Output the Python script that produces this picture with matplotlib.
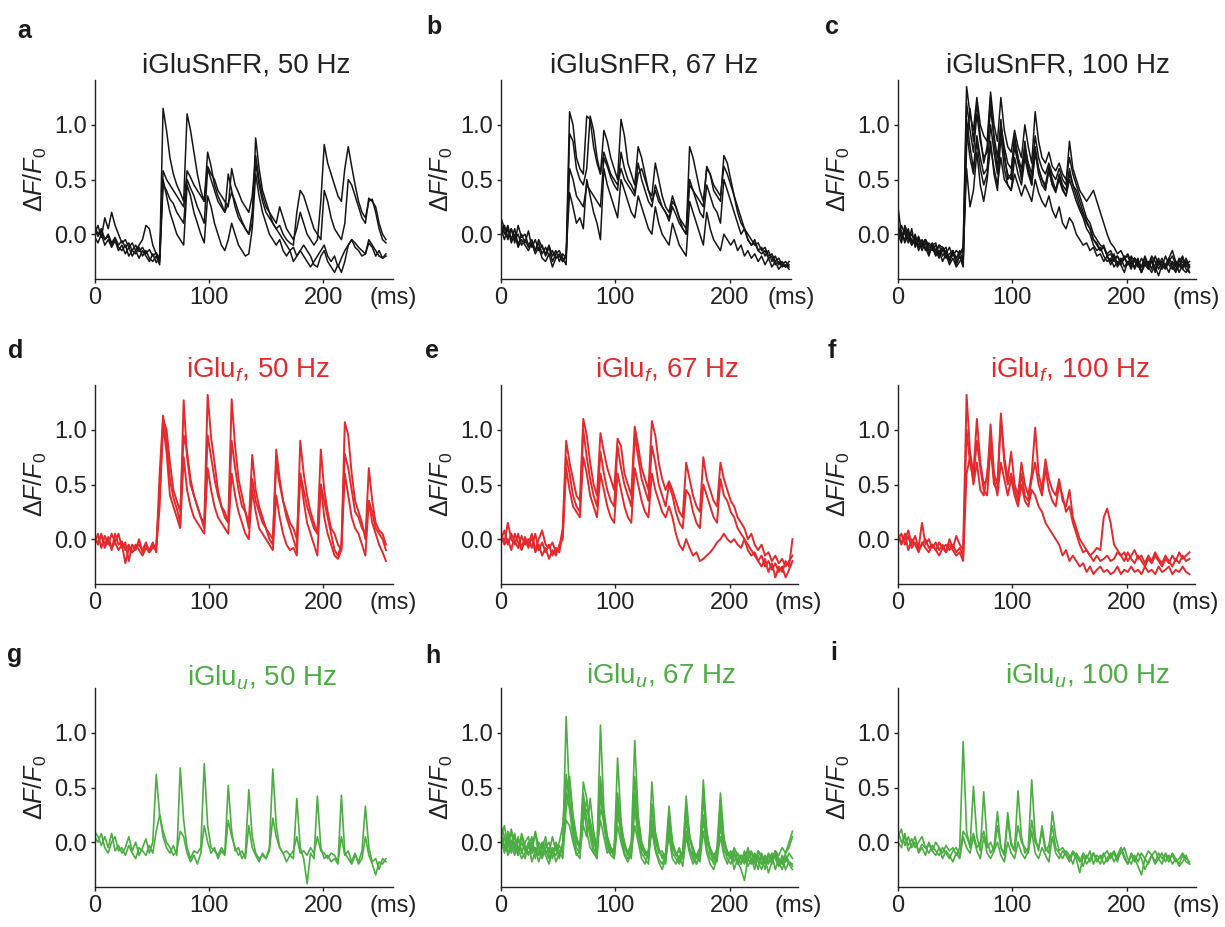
import numpy as np
import matplotlib
matplotlib.use("Agg")
import matplotlib.pyplot as plt

plt.rcParams['font.family'] = ['Liberation Sans', 'DejaVu Sans']
plt.rcParams['mathtext.fontset'] = 'custom'
plt.rcParams['mathtext.rm'] = 'Liberation Sans'
plt.rcParams['mathtext.it'] = 'Liberation Sans:italic'
plt.rcParams['mathtext.bf'] = 'Liberation Sans:bold'

# sampling step of the traces (ms); values below are dF/F0 in hundredths
DT = 3

# --- iGluSnFR, 50 Hz ---
a1 = [5,-2,3,-5,0,-8,-3,-10,-6,-12,-8,-15,-10,-16,-12,-18,-14,-20,-17,-22,
      115,95,70,55,45,38,30,110,95,75,55,40,30,75,62,45,35,28,20,55,40,25,15,10,5,0,10,
      88,60,40,30,20,15,10,25,15,5,0,-5,5,20,10,0,-5,-10,-5,30,
      82,65,55,45,35,30,60,80,62,45,30,20,15,30,32,20,5,-5,-8]
a2 = [0,8,-3,15,5,20,8,0,-8,-5,-12,-8,-15,-10,-5,8,5,-10,-18,-25,
      58,50,45,40,35,30,25,58,52,45,40,35,30,62,55,50,40,35,30,25,60,45,38,30,25,20,35,
      72,50,35,25,20,10,5,8,0,-5,-8,-10,20,40,35,25,15,5,0,-5,
      40,30,15,5,0,-5,10,50,45,35,25,15,10,33,30,25,10,0,-5]
a3 = [-2,-8,0,-10,-5,-12,-6,-15,-10,-18,-12,-20,-15,-22,-15,-20,-25,-18,-26,-20,
      50,35,20,10,0,-5,-10,45,35,20,10,0,-8,35,25,10,0,-10,-15,-5,10,0,-10,-15,-20,-18,5,
      55,35,20,10,0,-5,-10,-5,-15,-20,-15,-25,-20,-15,-10,-15,-20,-28,-30,-20,
      -15,-25,-30,-35,-28,-35,-25,-10,-5,-12,-15,-20,-18,-5,-10,-15,-20,-22,-18]
a4 = [8,0,5,-5,-2,-10,-5,-12,-15,-10,-20,-15,-18,-12,-20,-15,-22,-25,-20,-28,
      45,40,32,28,20,15,10,50,42,35,25,18,10,60,50,40,30,25,20,28,38,30,20,12,5,0,20,
      65,45,30,20,15,10,5,0,-5,-10,-15,-12,-20,-15,-20,-25,-30,-25,-20,-15,
      -10,-20,-25,-20,-30,-22,-15,-10,-5,-8,-12,-15,-18,-8,-12,-20,-15,-22,-20]

# --- iGluSnFR, 67 Hz ---
b1 = [15,5,-5,5,-8,8,-3,0,-10,-5,-15,-8,-18,-12,-20,-15,-22,-18,-25,-20,
      112,100,70,60,55,108,105,80,65,55,95,85,70,60,50,105,90,65,55,45,80,70,55,40,35,
      65,50,35,25,20,35,25,15,5,0,80,70,55,40,30,60,55,40,35,30,
      72,65,50,35,25,15,5,0,-5,-10,-8,-15,-12,-20,-18,-25,-22,-28,-25,-30]
b2 = [10,0,8,-5,5,-10,0,-8,3,-12,-5,-15,-10,-20,-12,-25,-18,-15,-22,-28,
      92,85,60,50,45,60,108,95,70,55,75,65,55,50,45,60,50,45,40,35,55,60,50,40,30,
      40,30,25,20,15,30,25,15,10,5,45,40,35,30,25,62,55,45,40,35,
      62,55,45,35,20,10,5,-5,-10,-5,-15,-12,-20,-15,-25,-20,-28,-25,-30,-28]
b3 = [5,-5,5,-8,0,-12,-5,-10,-15,-8,-18,-12,-22,-25,-18,-30,-22,-20,-25,-18,
      38,25,10,15,5,50,35,20,10,-5,60,45,35,25,15,50,40,30,20,15,35,25,15,5,0,
      25,10,0,-5,-10,10,0,-10,-15,-20,30,20,10,0,-10,20,5,-5,-10,-15,
      0,-5,-10,-5,-15,-10,-20,-15,-22,-18,-25,-20,-28,-22,-30,-25,-32,-28,-30,-25]
b4 = [0,8,-3,5,-5,0,-10,-5,-12,-8,-15,-5,-12,-18,-10,-20,-15,-25,-18,-22,
      60,50,35,30,25,45,40,35,30,25,70,62,52,45,40,75,60,50,45,38,65,50,40,30,25,
      45,35,25,20,12,25,18,10,5,0,50,40,30,20,15,45,35,25,20,10,
      50,40,30,20,10,0,5,-5,-10,-8,-15,-18,-15,-22,-20,-28,-25,-30,-28,-32]

# --- iGluSnFR, 100 Hz ---
c1 = [5,-2,3,-5,0,-8,-3,-10,-5,-12,-8,-15,-10,-12,-18,-12,-20,-15,-18,-12,
      135,110,95,125,100,90,85,130,100,85,125,95,80,75,95,80,70,100,80,65,112,85,70,65,
      75,62,58,65,55,50,70,55,45,35,25,15,10,0,-5,-10,-12,-18,-15,-22,-20,-25,-22,-28,
      -20,-25,-30,-22,-28,-25,-32,-20,-28,-25,-30,-22,-27,-33,-25,-20,-30,-28]
c2 = [25,0,-5,5,-8,-2,-10,-5,-15,-8,-12,-18,-10,-20,-15,-22,-15,-25,-20,-28,
      105,80,60,90,70,55,60,100,75,55,105,70,55,50,80,65,55,75,60,50,80,60,50,45,
      62,50,40,55,45,40,60,45,35,25,18,10,5,-5,-10,-15,-12,-20,-18,-25,-20,-28,-22,-18,
      -25,-30,-22,-35,-25,-30,-22,-35,-25,-30,-20,-28,-32,-25,-35,-28,-25,-35]
c3 = [-3,8,0,-8,5,-12,-5,-15,-8,-18,-12,-20,-15,-25,-18,-28,-22,-30,-25,-20,
      60,25,40,75,45,30,50,85,55,40,90,60,45,40,70,55,45,70,55,45,75,60,50,42,
      58,45,38,52,42,35,55,45,40,30,20,12,5,-5,-8,-15,-10,-20,-25,-18,-28,-22,-30,-25,
      -32,-22,-28,-35,-25,-30,-35,-28,-22,-32,-28,-35,-25,-30,-22,-32,-35,-30]
c4 = [10,-5,5,-3,-10,0,-12,-8,-5,-15,-10,-8,-20,-15,-12,-25,-18,-22,-15,-25,
      95,70,55,85,60,45,55,80,60,45,70,50,45,40,55,45,35,45,38,30,50,38,30,25,
      35,22,15,25,10,5,15,10,0,-5,-10,-8,-15,-12,-20,-18,-25,-20,-28,-22,-30,-25,-20,-28,
      -22,-32,-25,-30,-20,-28,-25,-32,-28,-22,-30,-25,-20,-28,-30,-22,-28,-25]
c5 = [0,-8,8,0,-5,-10,-2,-12,-5,-10,-15,-10,-18,-12,-22,-18,-15,-22,-18,-15,
      120,95,75,110,85,70,75,115,90,70,100,80,65,60,85,70,60,80,65,55,90,70,60,55,
      65,55,50,60,50,45,85,60,50,40,35,30,35,40,30,20,10,0,-8,-12,-18,-15,-22,-20,
      -28,-22,-25,-30,-22,-28,-20,-25,-32,-25,-28,-22,-15,-25,-28,-32,-22,-30]
c6 = [-5,3,-8,2,-10,-3,-15,-8,-12,-20,-10,-15,-22,-12,-18,-25,-15,-28,-20,-30,
      80,115,85,120,90,65,80,125,85,60,95,75,50,55,90,70,50,85,60,45,75,55,45,40,
      60,45,40,50,40,35,50,40,30,22,15,5,0,-10,-15,-12,-20,-25,-22,-30,-25,-28,-35,-25,
      -30,-22,-28,-35,-28,-32,-25,-30,-38,-28,-32,-25,-30,-35,-28,-25,-32,-35]

# --- iGlu_f, 50 Hz ---
d1 = [-5,5,-8,3,-5,5,-3,5,-8,-3,-20,-5,-10,0,-12,-5,-10,-3,-12,60,
      113,90,55,38,28,15,127,75,50,40,30,20,15,132,93,70,45,30,25,15,128,85,55,40,25,15,
      77,45,30,20,10,0,-5,82,55,35,20,10,0,-10,90,60,40,25,15,5,
      82,45,25,10,5,-5,-10,107,95,60,35,25,15,0,65,35,15,8,5,-5]
d2 = [3,-5,5,-8,0,-10,5,-5,-2,-10,-5,-12,-8,-5,-10,-3,-12,-8,-5,40,
      110,100,70,45,35,25,95,80,55,40,30,20,10,95,75,55,40,30,20,15,90,65,45,30,25,10,
      55,35,25,15,10,5,0,70,50,35,25,15,10,0,60,45,30,20,10,5,
      50,35,20,5,-10,-15,-5,78,65,45,25,20,10,5,35,25,10,5,0,-10]
d3 = [0,-3,3,-5,2,-8,-3,-10,-5,-22,-8,-12,-5,-10,-15,-8,-12,-5,-10,30,
      105,80,40,30,20,10,75,45,30,20,15,10,5,65,45,30,20,15,10,5,60,40,25,15,5,0,
      45,25,10,5,0,-5,-10,40,20,5,-5,-10,-8,-15,60,35,15,5,-5,-15,
      50,20,5,-5,-15,-18,-10,60,40,20,10,5,-5,-15,35,15,5,-5,-12,-20]

# --- iGlu_f, 67 Hz ---
e1 = [5,-3,15,0,-5,5,-8,2,-5,5,-10,0,8,-5,-8,-3,-12,-8,10,
      90,70,55,40,35,110,95,70,50,40,97,80,65,55,45,92,85,60,50,40,103,85,65,55,45,
      108,95,70,55,45,53,45,35,25,20,70,55,40,30,25,75,55,45,35,30,
      70,55,45,35,30,20,15,10,0,5,-5,-10,-5,-15,-12,-20,-15,-22,-18,-25,-20,-15]
e2 = [0,8,-5,5,-2,-8,3,-5,0,-8,5,-10,-3,-12,-5,-15,-8,-12,5,
      75,60,40,30,25,100,75,55,40,30,80,60,45,35,30,85,65,50,40,30,95,75,55,45,35,
      85,70,50,40,30,50,40,25,15,10,45,40,25,15,10,50,40,30,20,15,
      55,40,35,25,20,10,5,0,-5,-10,-15,-20,-15,-25,-20,-28,-22,-30,-25,-35,-28,-20]
e3 = [3,-5,0,-10,5,-3,-10,0,-8,3,-12,-5,-15,-8,-18,-10,-15,-5,0,
      65,45,30,25,20,75,60,40,30,20,60,45,30,20,15,60,45,30,20,15,65,50,35,25,20,
      60,45,35,25,20,30,20,5,-5,-10,0,-8,-15,-12,-20,-18,-15,-12,-8,-3,
      0,5,0,-3,0,-5,-8,0,-10,-15,-12,-20,-25,-18,-30,-22,-35,-25,-30,-20,-25,0]

# --- iGlu_f, 100 Hz ---
f1 = [5,-3,0,8,-5,3,-8,15,-5,0,-8,-3,-10,-5,-12,0,-8,3,-5,-10,
      132,80,60,110,70,50,55,105,60,50,115,75,55,80,50,40,70,50,40,60,
      102,60,45,73,55,45,40,55,35,30,45,20,10,0,-5,-10,-15,-20,-15,-20,
      -18,-15,-20,-18,-12,-15,-20,-12,-18,-22,-15,-20,-25,-18,-22,-15,-20,-25,-18,-22,
      -15,-20,-12,-18,-15,-12]
f2 = [0,5,-5,3,-8,-3,-10,-5,0,-8,-5,-10,-3,-8,-5,-10,-5,-12,-8,-15,
      100,70,55,90,65,45,40,85,50,45,110,70,50,60,45,35,60,40,35,55,
      70,50,40,65,45,35,30,50,40,25,30,15,5,-5,-12,-10,-15,-12,-8,-10,
      20,28,15,-5,-10,-15,-12,-20,-15,-10,-18,-15,-22,-15,-20,-12,-18,-22,-15,-20,
      -25,-18,-22,-15,-20,-18]
f3 = [3,-5,5,-10,0,-5,-12,-3,-8,-12,-5,-10,-15,-8,-12,-5,-10,-15,-12,-20,
      60,75,50,70,45,40,60,90,55,40,70,55,40,55,40,30,50,35,30,45,
      40,30,25,15,10,5,0,-5,-15,-10,-20,-15,-20,-25,-22,-30,-25,-32,-28,-25,
      -30,-28,-32,-30,-25,-32,-28,-30,-25,-30,-28,-32,-25,-30,-28,-32,-25,-30,-28,-25,
      -32,-28,-30,-25,-30,-32]

# --- iGlu_u, 50 Hz ---
g1 = [10,5,-3,5,-5,8,-8,-3,-10,-5,5,-8,0,-12,-5,3,-10,0,62,25,5,-5,-10,-3,-12,
      68,20,-5,-15,-8,-10,-5,72,15,-5,-8,-12,-5,-10,52,10,-8,-5,-15,-10,48,5,-10,-15,-12,
      -15,-5,67,15,-5,-10,-18,-12,-15,40,-5,-15,-38,-10,-15,42,-5,-15,-12,-18,-15,-20,
      43,-10,-15,-20,-12,-18,-8,33,-5,-18,-15,-25,-15,-18]
g2 = [5,0,8,-5,-10,0,5,-8,-5,-12,-3,-10,-15,-5,-8,-12,-3,-10,10,25,10,0,-5,-12,-8,
      10,5,-10,-18,-12,-20,-10,15,0,-10,-5,-15,-8,-12,20,5,-5,-12,-8,-15,15,-5,-12,-18,-10,
      -15,-8,22,5,-5,-10,-8,-12,-8,5,-10,-8,-12,-5,-10,5,-8,-10,-15,-10,-12,-18,
      5,-12,-8,-18,-10,-20,-15,5,-12,-20,-30,-18,-20,-15]

# --- iGlu_u, 67 Hz ---
h1 = [10,-5,5,-10,0,-8,5,-5,-12,0,-8,-3,-15,-5,0,-10,-5,-12,-5,
      115,40,10,-5,-10,35,10,-5,-10,-5,107,30,5,-5,-10,77,20,-5,-10,0,93,25,0,-10,-15,
      55,10,-5,-15,-10,33,0,-10,-18,-12,42,5,-10,-15,-8,57,10,-10,-15,-5,
      45,5,-10,-15,-10,-20,-12,-15,-8,-18,-10,-15,-20,-12,-18,-10,-15,-22,-12,-18,-10,-15]
h2 = [5,15,-5,10,-8,5,-10,0,5,-10,10,-5,-12,0,-10,5,-8,0,15,
      62,35,15,0,-5,55,40,15,0,-8,60,25,5,-5,-8,45,15,0,-10,-5,60,20,0,-8,-12,
      35,5,-10,-8,-15,20,0,-12,-8,-15,30,5,-8,-12,-5,40,5,-5,-12,-8,
      30,0,-8,-15,-5,-12,-20,-8,-15,-10,-18,-8,-12,-20,-10,-15,-8,-12,-5,-10,0,10]
h3 = [0,-8,10,-3,-12,3,-8,-15,-3,-10,-5,-18,-8,-12,-20,-8,-12,-3,-10,
      45,30,5,-10,-15,25,38,10,-5,-15,45,15,-5,-12,-15,35,5,-10,-15,-10,40,10,-10,-15,-20,
      20,-5,-15,-20,-12,10,-10,-15,-20,-10,20,-5,-15,-20,-12,25,-5,-15,-18,-10,
      20,-5,-15,-20,-12,-18,-25,-35,-15,-20,-12,-18,-25,-15,-20,-12,-25,-15,-20,-12,-18,-22]
h4 = [15,5,-10,0,8,-12,0,-8,-5,5,-15,0,-5,-10,-5,-15,0,-8,-15,
      30,55,20,5,-5,20,30,20,5,-10,30,20,0,-8,-12,25,10,-5,-12,-8,30,5,-5,-12,-8,
      15,0,-8,-12,-18,15,-5,-12,-5,-15,10,-8,-12,-20,-10,20,0,-8,-20,-12,
      15,-8,-12,-8,-18,-10,-15,-20,-12,-8,-15,-25,-10,-18,-12,-20,-10,-18,-25,-15,-20,-25]
h5 = [-5,5,-12,-5,5,-5,-15,-10,0,-18,-8,-12,0,-8,-15,-5,-18,-10,-5,
      20,15,0,-12,-8,15,5,40,10,-5,20,5,-10,-5,-15,15,0,-12,-18,-10,15,0,-15,-20,-10,
      10,-8,-18,-25,-15,5,-15,-20,-12,-22,5,-10,-20,-12,-18,10,-10,-20,-25,-15,
      5,-12,-20,-10,-25,-15,-20,-10,-22,-15,-25,-12,-20,-15,-28,-18,-12,-22,-15,-25,-18,-20]
h6 = [5,-10,0,12,-5,-12,8,-3,-10,-5,8,-12,-5,5,-15,-8,-3,-15,0,
      50,60,25,5,-8,45,20,5,-10,-15,50,20,0,-10,-5,40,10,-5,-10,-15,45,15,-5,-10,-8,
      30,5,-8,-12,-20,25,-5,-10,-15,-8,35,5,-5,-15,-12,45,10,-8,-12,-18,
      35,0,-10,-15,-8,-20,-12,-18,-5,-15,-20,-8,-15,-25,-12,-18,-8,-15,-20,-10,-5,5]

# --- iGlu_u, 100 Hz ---
i1 = [10,0,5,-3,3,-5,0,5,-5,-2,-8,0,-5,-10,-3,-8,-5,-12,-5,
      92,10,-5,51,5,-8,46,0,-10,-5,28,-5,-10,27,0,-8,47,5,-10,-5,57,5,-8,15,-5,-10,28,5,-8,
      -5,-10,-15,-8,-12,-18,-10,-15,-8,-20,-12,-15,-10,-18,-12,-8,-15,-10,-5,-15,-20,-12,
      -18,-10,-15,-8,-12,-18,-10,-15,-12,-18,-10,-15,-20,-12,-18,-20]
i2 = [5,12,-3,5,-5,0,-8,-2,-5,-10,-3,-8,-12,-5,-10,-15,-8,-5,-12,
      10,5,-3,8,-5,0,10,-5,0,-8,15,-5,-12,20,-3,-8,15,0,-5,-10,20,0,-5,10,-8,-3,15,-5,-10,
      -15,-8,-12,-20,-10,-15,-22,-12,-18,-10,-15,-20,-12,-8,-15,-10,-18,-5,-12,-20,-10,-15,
      -22,-30,-15,-20,-12,-8,-15,-20,-10,-15,-12,-18,-15,-10,-15,-18]
i3 = [0,-5,8,-8,-2,5,-10,-5,-12,0,-8,-12,-5,-15,-8,-12,-18,-10,-15,
      5,-5,-10,5,-8,-15,5,-10,-15,-8,0,-12,-18,0,-10,-15,0,-10,-15,-8,10,-10,-15,-5,-12,-18,5,-10,-15,
      -8,-12,-18,-10,-15,-28,-12,-20,-15,-10,-18,-12,-20,-15,-10,-18,-12,-5,-15,-20,-12,-18,
      -10,-15,-25,-18,-12,-20,-15,-10,-18,-12,-20,-15,-22,-18,-12,-20]

BLACK = '#151515'
RED = '#e42a2d'
GREEN = '#4cae42'

titles = ['iGluSnFR, 50 Hz', 'iGluSnFR, 67 Hz', 'iGluSnFR, 100 Hz',
          'iGlu$_{f}$, 50 Hz', 'iGlu$_{f}$, 67 Hz', 'iGlu$_{f}$, 100 Hz',
          'iGlu$_{u}$, 50 Hz', 'iGlu$_{u}$, 67 Hz', 'iGlu$_{u}$, 100 Hz']
letters = ['a', 'b', 'c', 'd', 'e', 'f', 'g', 'h', 'i']
traces = [[a1, a2, a3, a4], [b1, b2, b3, b4], [c1, c2, c3, c4, c5, c6],
          [d1, d2, d3], [e1, e2, e3], [f1, f2, f3],
          [g1, g2], [h1, h2, h3, h4, h5, h6], [i1, i2, i3]]
row_colors = [BLACK, RED, GREEN]
row_lw = [1.1, 1.4, 1.2]
x_max = [261, 254, 261, 261, 260, 260, 261, 260, 261]

# layout in pixels
W, H = 1225, 927
col_left = [94.5, 501, 898]
row_top = [80, 385, 688]
AX_H = 199
PX_PER_MS = 1.143
title_x = [246, 654, 1058, 258, 667, 1070, 262, 661, 1088]
title_base = [72, 72, 72, 378, 378, 377, 685, 684, 684]
letter_x = [17, 426, 825, 8, 425, 828, 7, 425, 830]
letter_base = [38, 34, 34, 358, 358, 358, 662, 663, 660]

fig = plt.figure(figsize=(W / 100, H / 100), dpi=100)

for k in range(9):
    r, c = divmod(k, 3)
    color = row_colors[r]
    left = col_left[c]
    top = row_top[r]
    width = x_max[k] * PX_PER_MS
    ax = fig.add_axes([left / W, 1 - (top + AX_H) / H, width / W, AX_H / H])
    for tr in traces[k]:
        y = np.array(tr) / 100.0
        t = np.arange(len(y)) * DT
        ax.plot(t, y, color=color, lw=row_lw[r])
    ax.set_xlim(0, x_max[k])
    ax.set_ylim(-0.41, 1.41)
    for s in ['top', 'right']:
        ax.spines[s].set_visible(False)
    for s in ['left', 'bottom']:
        ax.spines[s].set_linewidth(1.0)
        ax.spines[s].set_color('#222222')
    ax.set_xticks([0, 100, 200])
    ax.set_yticks([0, 0.5, 1.0])
    ax.set_yticklabels(['0.0', '0.5', '1.0'])
    ax.tick_params(direction='out', length=3, width=1.0, pad=2.5,
                   labelsize=17, colors='#222222')
    ax.set_ylabel(r'$\mathit{\Delta F/F}_\mathrm{0}$', fontsize=18,
                  labelpad=4, color='#222222')
    ax.annotate('(ms)', xy=(1, 0), xycoords='axes fraction', xytext=(0, -5.5),
                textcoords='offset points', ha='center', va='top',
                fontsize=17, color='#222222')
    fig.text(title_x[k] / W, 1 - title_base[k] / H, titles[k], ha='center',
             va='baseline', fontsize=20,
             color='#222222' if r == 0 else color)
    fig.text(letter_x[k] / W, 1 - letter_base[k] / H, letters[k], ha='left',
             va='baseline', fontsize=18, fontweight='bold', color='#1a1a1a')

fig.savefig('out.png', dpi=100)
